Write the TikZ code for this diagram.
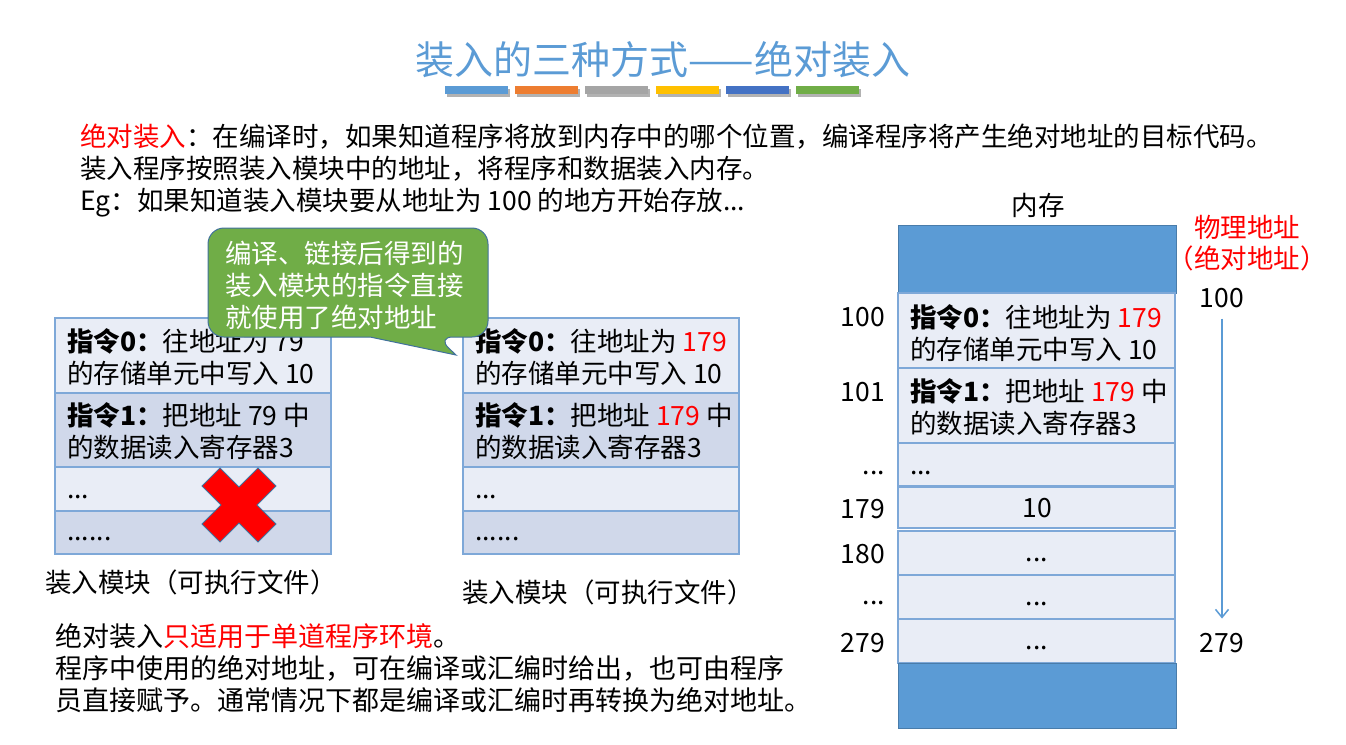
\documentclass[tikz,border=0pt]{standalone}
\usepackage{fontspec}
\setmainfont{Noto Sans CJK SC}
\usetikzlibrary{arrows.meta}

\definecolor{ttlblue}{RGB}{91,155,213}
\definecolor{barorange}{RGB}{237,125,49}
\definecolor{bargray}{RGB}{165,165,165}
\definecolor{baryellow}{RGB}{255,192,0}
\definecolor{bardblue}{RGB}{68,114,196}
\definecolor{bargreen}{RGB}{112,173,71}
\definecolor{celllight}{RGB}{233,237,246}
\definecolor{celldark}{RGB}{208,216,234}
\definecolor{cellline}{RGB}{126,168,216}
\definecolor{tipline}{RGB}{65,113,156}
\definecolor{memblue}{RGB}{91,155,213}
\definecolor{hotred}{RGB}{255,0,0}

\newcommand{\bodyfont}{\fontsize{26.5}{32}\selectfont}
\newcommand{\notefont}{\fontsize{27}{32}\selectfont}

\begin{document}
\begin{tikzpicture}[x=1pt,y=-1pt,>=Latex]

% ----------------------------
% Styles
% ----------------------------
\tikzset{
	txt/.style={inner sep=0pt,font=\bodyfont,anchor=base west,align=left},
	ctxt/.style={inner sep=0pt,font=\bodyfont,anchor=base},
	addr/.style={inner sep=0pt,font=\bodyfont,anchor=base east},
	cell/.style={draw=cellline,line width=1.2pt},
	memcell/.style={draw=cellline,fill=celllight,line width=1.2pt},
	memend/.style={fill=memblue,draw=memblue!80!black,line width=0.6pt},
	tip/.style={fill=bargreen,draw=tipline,line width=1pt},
	xmark/.style={fill=hotred,draw=tipline,line width=0.8pt},
	addrarr/.style={-{Straight Barb[length=8pt,width=13pt,line width=1.5pt]},draw=memblue,line width=1.5pt}
}

\useasboundingbox (0,0) rectangle (1346,744);

% ============================================================
% Title and colour bars
% (base of a multi-line node = baseline of its last line)
% ============================================================
\node[ctxt,font=\fontsize{39}{41}\selectfont,text=ttlblue] (title) at (663,74) {装入的三种方式——绝对装入};
\foreach \c [count=\i from 0] in {ttlblue,barorange,bargray,baryellow,bardblue,bargreen}{
	\fill[black!30] (447+70.2*\i,89) rectangle +(63,8);
	\fill[\c] (445+70.2*\i,86) rectangle +(63,8);
}

% ============================================================
% Top paragraph
% ============================================================
\node[txt] (intro) at (80,210) {\textcolor{hotred}{绝对装入}：在编译时，如果知道程序将放到内存中的哪个位置，编译程序将产生绝对地址的目标代码。\\
	装入程序按照装入模块中的地址，将程序和数据装入内存。\\
	Eg：如果知道装入模块要从地址为 100 的地方开始存放...};

% ============================================================
% LEFT: load module with relative addresses (crossed out)
% ============================================================
\begin{scope}
	\foreach \ya/\yb/\c in {318/393/celllight,393/467/celldark,467/511/celllight,511/554/celldark}
		\draw[cell,fill=\c] (55,\ya) rectangle (331,\yb);
	\node[txt] (lins0) at (67,383) {\textbf{指令0：}往地址为 79\\的存储单元中写入 10};
	\node[txt] (lins1) at (67,457) {\textbf{指令1：}把地址 79 中\\的数据读入寄存器3};
	\node[txt] (ldots1) at (67,498) {...};
	\node[txt] (ldots2) at (67,540) {......};
	\node[txt] (lcap) at (45,592) {装入模块（可执行文件）};
	
	% red cross
	\begin{scope}[shift={(239,505)},rotate=45]
		\filldraw[xmark] (39.6,12.7) -- (12.7,12.7) -- (12.7,39.6) -- (-12.7,39.6) -- (-12.7,12.7)
		-- (-39.6,12.7) -- (-39.6,-12.7) -- (-12.7,-12.7) -- (-12.7,-39.6) -- (12.7,-39.6)
		-- (12.7,-12.7) -- (39.6,-12.7) -- cycle;
	\end{scope}
\end{scope}

% ============================================================
% MIDDLE: load module with absolute addresses
% ============================================================
\begin{scope}[shift={(408,0)}]
	\foreach \ya/\yb/\c in {318/393/celllight,393/467/celldark,467/511/celllight,511/554/celldark}
		\draw[cell,fill=\c] (55,\ya) rectangle (331,\yb);
	\node[txt] (mins0) at (67,383) {\textbf{指令0：}往地址为 \textcolor{hotred}{179}\\的存储单元中写入 10};
	\node[txt] (mins1) at (67,457) {\textbf{指令1：}把地址 \textcolor{hotred}{179} 中\\的数据读入寄存器3};
	\node[txt] (mdots1) at (67,498) {...};
	\node[txt] (mdots2) at (67,540) {......};
	\node[txt] (mcap) at (54,602) {装入模块（可执行文件）};
\end{scope}

% callout
\draw[tip] (208,282) [rounded corners=16pt] -- (208,228) -- (488,228) -- (488,337) -- (437,337)
	[sharp corners] -- (456,355) -- (370,337) [rounded corners=16pt] -- (208,337) -- cycle;
\node[txt,text=white] (tiptext) at (225,327) {编译、链接后得到的\\装入模块的指令直接\\就使用了绝对地址};

% ============================================================
% RIGHT: main memory
% ============================================================
\node[ctxt] (memtitle) at (1038,215) {内存};
\fill[memend] (898,225) rectangle (1176,293);
\draw[memcell] (898,293) rectangle (1175,368);
\draw[memcell] (898,368) rectangle (1175,443);
\draw[memcell] (898,443) rectangle (1175,486);
\draw[memcell] (898,487) rectangle (1175,528);
\draw[memcell] (898,531) rectangle (1175,575);
\draw[memcell] (898,575) rectangle (1175,619);
\draw[memcell] (898,619) rectangle (1175,663);
\fill[memend] (898,663) rectangle (1176,728);

\node[txt] (cins0) at (910,359) {\textbf{指令0：}往地址为 \textcolor{hotred}{179}\\的存储单元中写入 10};
\node[txt] (cins1) at (910,433) {\textbf{指令1：}把地址 \textcolor{hotred}{179} 中\\的数据读入寄存器3};
\node[txt] (cdots1) at (910,474) {...};
\node[ctxt] (cval) at (1037,517) {10};
\node[ctxt] (cdots2) at (1037,561) {...};
\node[ctxt] (cdots3) at (1037,605) {...};
\node[ctxt] (cdots4) at (1037,649) {...};

% addresses on the left
\node[addr] (a100) at (885,326) {100};
\node[addr] (a101) at (885,401) {101};
\node[addr] (adots1) at (885,474) {...};
\node[addr] (a179) at (885,518) {179};
\node[addr] (a180) at (885,563) {180};
\node[addr] (adots2) at (885,604) {...};
\node[addr] (a279) at (885,652) {279};

% physical address range
\node[ctxt,text=hotred] (phys) at (1247,237) {物理地址};
\node[ctxt,text=hotred] (absl) at (1247,268) {（绝对地址）};
\node[ctxt,inner sep=3pt] (p100) at (1222,307) {100};
\node[ctxt,inner sep=3pt] (p279) at (1222,652) {279};
\draw[addrarr,shorten <=8pt,shorten >=11pt] (p100) -- (p279);

% ============================================================
% Bottom note
% ============================================================
\node[txt,font=\notefont] (note) at (55,710) {绝对装入\textcolor{hotred}{只适用于单道程序环境}。\\
	程序中使用的绝对地址，可在编译或汇编时给出，也可由程序\\
	员直接赋予。通常情况下都是编译或汇编时再转换为绝对地址。};

\end{tikzpicture}
\end{document}
